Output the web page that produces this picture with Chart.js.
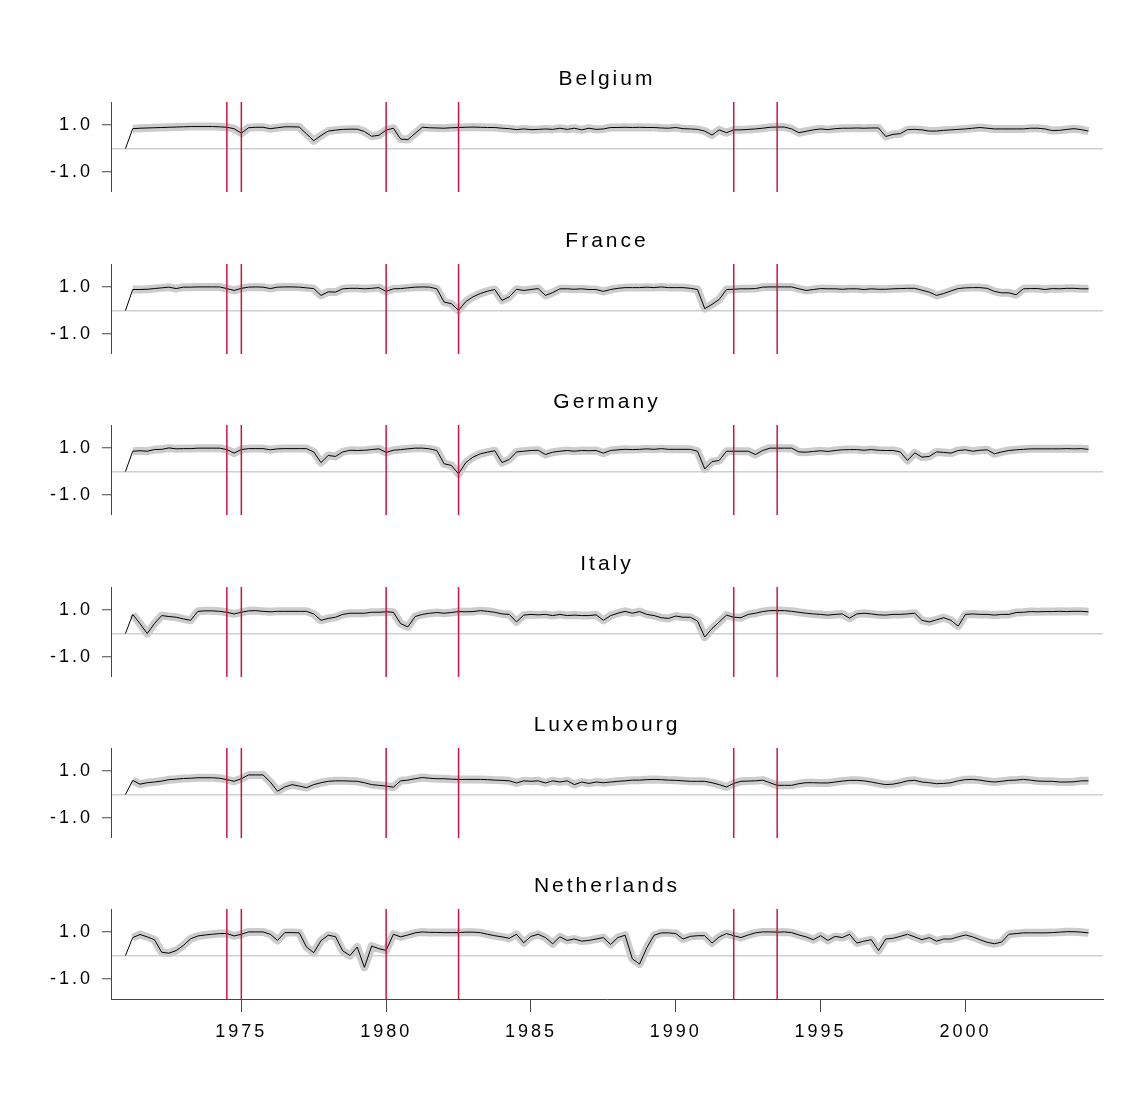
<!DOCTYPE html>
<html>
<head>
<meta charset="utf-8">
<title>Country panels 1971-2004</title>
<script src="https://cdn.jsdelivr.net/npm/chart.js@4.4.0/dist/chart.umd.min.js"></script>
<style>
body{margin:0;background:#fff;}
#wrap{position:relative;width:1135px;height:1103px;overflow:hidden;background:#fff;}
#wrap canvas{position:absolute;left:0;}
</style>
</head>
<body>
<div id="wrap"></div>
<script>
// panel names, quarterly series from 1971Q1
const countries = ["Belgium","France","Germany","Italy","Luxembourg","Netherlands"];
const startYear = 1971;

const belgium = [0,0.84,0.86,0.87,0.88,0.89,0.90,0.91,0.92,0.93,0.93,0.93,0.93,0.92,0.90,0.84,0.65,0.88,0.90,0.90,
  0.84,0.88,0.92,0.92,0.91,0.62,0.33,0.55,0.74,0.78,0.81,0.82,0.82,0.72,0.52,0.56,0.78,0.86,0.40,0.38,
  0.64,0.90,0.88,0.87,0.86,0.88,0.89,0.90,0.91,0.90,0.89,0.89,0.86,0.84,0.80,0.83,0.80,0.81,0.83,0.81,
  0.86,0.81,0.86,0.79,0.86,0.81,0.83,0.89,0.89,0.90,0.89,0.90,0.89,0.89,0.87,0.86,0.89,0.84,0.83,0.81,
  0.74,0.57,0.79,0.67,0.79,0.79,0.81,0.83,0.86,0.90,0.91,0.91,0.83,0.67,0.73,0.79,0.83,0.80,0.84,0.86,
  0.86,0.87,0.86,0.87,0.87,0.51,0.60,0.63,0.80,0.81,0.79,0.74,0.74,0.77,0.79,0.81,0.83,0.86,0.89,0.86,
  0.83,0.83,0.83,0.83,0.83,0.86,0.86,0.83,0.76,0.77,0.81,0.84,0.80,0.74];
const france = [0,0.89,0.89,0.90,0.93,0.96,0.99,0.93,0.99,0.99,1.00,1.00,1.00,1.00,0.93,0.85,0.94,0.99,1.00,0.99,
  0.93,0.99,1.00,1.00,0.99,0.96,0.93,0.64,0.79,0.78,0.92,0.94,0.94,0.92,0.94,0.97,0.81,0.92,0.93,0.96,
  0.99,1.00,0.99,0.92,0.36,0.29,0.01,0.38,0.58,0.72,0.82,0.89,0.43,0.58,0.90,0.85,0.89,0.93,0.64,0.76,
  0.92,0.92,0.90,0.92,0.89,0.89,0.81,0.89,0.94,0.97,0.97,0.97,0.99,0.97,1.00,0.97,0.97,0.97,0.94,0.89,
  0.08,0.26,0.47,0.89,0.90,0.92,0.92,0.93,0.99,1.00,1.00,1.00,1.00,0.92,0.85,0.89,0.93,0.92,0.92,0.90,
  0.92,0.92,0.89,0.92,0.90,0.90,0.92,0.93,0.94,0.94,0.86,0.78,0.64,0.72,0.83,0.93,0.96,0.97,0.97,0.94,
  0.81,0.75,0.75,0.67,0.92,0.93,0.93,0.89,0.93,0.92,0.94,0.94,0.92,0.92];
const germany = [0,0.86,0.88,0.86,0.93,0.94,1.00,0.96,0.97,0.97,0.99,0.99,0.99,0.99,0.93,0.78,0.93,0.97,0.97,0.97,
  0.92,0.96,0.97,0.97,0.97,0.97,0.83,0.38,0.68,0.64,0.83,0.90,0.89,0.90,0.93,0.96,0.81,0.90,0.93,0.96,
  0.99,0.99,0.96,0.89,0.33,0.26,-0.10,0.38,0.61,0.75,0.82,0.88,0.38,0.51,0.83,0.86,0.89,0.90,0.72,0.82,
  0.86,0.89,0.86,0.89,0.88,0.89,0.78,0.89,0.92,0.94,0.93,0.94,0.96,0.94,0.97,0.94,0.94,0.94,0.94,0.86,
  0.11,0.42,0.47,0.86,0.86,0.86,0.86,0.72,0.89,0.99,0.99,0.99,0.99,0.83,0.82,0.85,0.88,0.85,0.89,0.92,
  0.93,0.93,0.90,0.93,0.90,0.89,0.89,0.83,0.47,0.79,0.61,0.64,0.83,0.81,0.78,0.89,0.92,0.86,0.90,0.92,
  0.75,0.83,0.89,0.92,0.94,0.96,0.96,0.96,0.96,0.96,0.97,0.96,0.97,0.94];
const italy = [0,0.81,0.42,0.00,0.42,0.76,0.72,0.69,0.62,0.56,0.94,0.96,0.96,0.94,0.90,0.83,0.90,0.96,0.97,0.94,
  0.92,0.94,0.94,0.94,0.94,0.94,0.83,0.56,0.64,0.69,0.81,0.86,0.86,0.86,0.90,0.90,0.92,0.90,0.42,0.28,
  0.72,0.81,0.86,0.89,0.86,0.89,0.93,0.92,0.93,0.97,0.94,0.90,0.83,0.81,0.49,0.78,0.81,0.79,0.81,0.76,
  0.81,0.76,0.78,0.76,0.76,0.79,0.56,0.76,0.86,0.94,0.86,0.93,0.81,0.76,0.67,0.64,0.74,0.69,0.69,0.53,
  -0.15,0.21,0.49,0.78,0.69,0.67,0.81,0.86,0.93,0.97,0.97,0.97,0.94,0.90,0.86,0.83,0.81,0.78,0.81,0.83,
  0.65,0.83,0.86,0.83,0.79,0.78,0.81,0.81,0.83,0.86,0.56,0.49,0.58,0.67,0.56,0.31,0.81,0.83,0.81,0.81,
  0.78,0.81,0.81,0.89,0.90,0.93,0.92,0.93,0.93,0.94,0.93,0.94,0.94,0.92];
const luxembourg = [0,0.60,0.44,0.50,0.53,0.57,0.63,0.65,0.68,0.69,0.71,0.71,0.71,0.69,0.63,0.56,0.67,0.83,0.83,0.83,
  0.53,0.14,0.32,0.42,0.36,0.29,0.42,0.50,0.56,0.58,0.58,0.57,0.56,0.50,0.42,0.39,0.36,0.31,0.58,0.61,
  0.67,0.72,0.69,0.67,0.67,0.65,0.64,0.64,0.64,0.64,0.63,0.61,0.60,0.58,0.49,0.58,0.56,0.58,0.49,0.58,
  0.53,0.58,0.42,0.53,0.47,0.53,0.50,0.53,0.56,0.58,0.61,0.61,0.63,0.64,0.63,0.61,0.60,0.58,0.56,0.56,
  0.56,0.50,0.42,0.32,0.47,0.56,0.57,0.58,0.61,0.50,0.39,0.39,0.39,0.46,0.50,0.50,0.49,0.49,0.53,0.57,
  0.60,0.60,0.58,0.53,0.47,0.42,0.44,0.50,0.58,0.60,0.53,0.50,0.46,0.47,0.50,0.58,0.63,0.64,0.61,0.56,
  0.53,0.56,0.60,0.61,0.64,0.61,0.57,0.56,0.56,0.53,0.53,0.54,0.58,0.58];
const netherlands = [0,0.76,0.89,0.79,0.67,0.14,0.10,0.21,0.43,0.71,0.83,0.87,0.90,0.93,0.93,0.83,0.90,1.00,1.00,1.00,
  0.90,0.64,0.97,0.97,0.96,0.36,0.12,0.63,0.86,0.80,0.20,0.00,0.36,-0.50,0.40,0.29,0.22,0.90,0.79,0.87,
  0.96,1.00,0.98,0.98,0.97,0.97,0.97,0.99,0.99,0.97,0.90,0.84,0.79,0.73,0.90,0.54,0.81,0.90,0.76,0.50,
  0.79,0.64,0.70,0.61,0.64,0.70,0.76,0.47,0.76,0.86,-0.14,-0.36,0.33,0.86,0.96,0.96,0.93,0.70,0.81,0.84,
  0.84,0.53,0.79,0.93,0.84,0.76,0.87,0.96,1.00,1.00,0.99,1.00,0.97,0.87,0.79,0.67,0.84,0.64,0.81,0.76,
  0.90,0.53,0.61,0.67,0.21,0.70,0.73,0.81,0.90,0.79,0.67,0.76,0.61,0.70,0.70,0.79,0.87,0.79,0.67,0.56,
  0.50,0.57,0.90,0.93,0.96,0.96,0.96,0.96,0.97,0.99,1.01,1.01,0.99,0.96];

const series = [belgium, france, germany, italy, luxembourg, netherlands];

// red vertical markers and axis ticks
const breakYears = [1974.5, 1975, 1980, 1982.5, 1992, 1993.5];
const yearTicks = [1975, 1980, 1985, 1990, 1995, 2000];
const valueTicks = [-1, 0, 1];

const xMin = 1970.5, xMax = 2004.75;
const yMin = -1.84, yMax = 1.97;

const FONT = "'Liberation Sans', Arial, Helvetica, sans-serif";
const AXIS = "#444444";
const RED = "#cc1440";
const BAND = "#cccccc";
const ZERO = "#cfcfcf";

const plotTops = [102, 264, 425, 587, 748, 909];
const plotH = 90, headH = 52, footH = 60;

// R draws its text a bit spread out
const spacing = {
  id: "spacing",
  beforeLayout(chart){ chart.ctx.letterSpacing = "3px"; },
  beforeDraw(chart){ chart.ctx.letterSpacing = "3px"; }
};

const wrap = document.getElementById("wrap");

function makePanel(i){
  const last = i === countries.length - 1;
  const canvas = document.createElement("canvas");
  canvas.width = 1135;
  canvas.height = headH + plotH + (last ? footH : 0);
  canvas.style.top = (plotTops[i] - headH) + "px";
  wrap.appendChild(canvas);

  const line = series[i].map((v, q) => ({x: startYear + q / 4, y: v}));

  const datasets = breakYears.map(yr => ({
    data: [{x: yr, y: yMin}, {x: yr, y: yMax}],
    borderColor: RED, borderWidth: 1.5, order: 0
  }));
  datasets.push({data: line, borderColor: "#000", borderWidth: 1, order: 1});
  datasets.push({data: line.slice(1), borderColor: BAND, borderWidth: 8,
    borderJoinStyle: "round", borderCapStyle: "butt", order: 2});

  new Chart(canvas, {
    type: "line",
    data: {datasets: datasets},
    plugins: [spacing],
    options: {
      responsive: false,
      animation: false,
      events: [],
      devicePixelRatio: 1,
      layout: {padding: {left: 0, right: 32, top: 0, bottom: 0}, autoPadding: false},
      elements: {point: {radius: 0}, line: {tension: 0}},
      plugins: {
        legend: {display: false},
        tooltip: {enabled: false},
        title: {
          display: true, text: countries[i], fullSize: false, color: "#000",
          font: {family: FONT, size: 21, weight: "normal", lineHeight: 1.2},
          padding: {top: 16.4, bottom: 10.4}
        }
      },
      scales: {
        x: {
          type: "linear", min: xMin, max: xMax, display: last,
          afterBuildTicks: s => { s.ticks = yearTicks.map(v => ({value: v})); },
          afterFit: s => {
            if (s.options.display) s.height = footH;
            s.paddingLeft = 0; s.paddingRight = 0;
          },
          grid: {drawOnChartArea: false, drawTicks: true, tickLength: 13, tickColor: AXIS, tickWidth: 1},
          border: {display: true, color: AXIS, width: 1},
          ticks: {color: "#000", font: {family: FONT, size: 18}, padding: 9,
            maxRotation: 0, autoSkip: false, callback: v => String(v)}
        },
        y: {
          min: yMin, max: yMax,
          afterBuildTicks: s => { s.ticks = valueTicks.map(v => ({value: v})); },
          afterFit: s => { s.width = 111; s.paddingTop = 0; s.paddingBottom = 0; },
          grid: {
            color: c => (c.tick && c.tick.value === 0) ? ZERO : "rgba(0,0,0,0)",
            tickColor: c => (c.tick && c.tick.value === 0) ? "rgba(0,0,0,0)" : AXIS,
            lineWidth: 1.5, tickWidth: 1, tickLength: 9
          },
          border: {display: true, color: AXIS, width: 1},
          ticks: {color: "#000", font: {family: FONT, size: 18}, padding: 9,
            callback: v => v === 0 ? "" : v.toFixed(1)}
        }
      }
    }
  });
}

countries.forEach((c, i) => makePanel(i));
</script>
</body>
</html>
